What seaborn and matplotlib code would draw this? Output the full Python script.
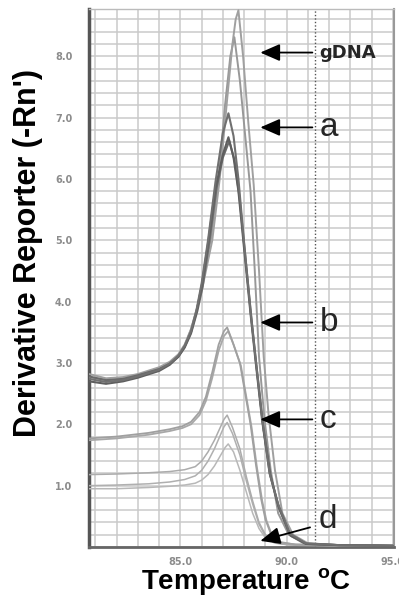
import numpy as np
import pandas as pd
import matplotlib
matplotlib.use("Agg")
import matplotlib.pyplot as plt
import seaborn as sns
from matplotlib.ticker import FixedLocator, MultipleLocator, FormatStrFormatter

# ---------------- data ----------------
gdna1_t = [80.7, 81.5, 82.3, 83.0, 84.0, 84.5, 84.9, 85.2, 85.5, 85.8, 86.05, 86.5, 86.85, 87.2, 87.45, 87.6, 87.73,
           87.95, 88.2, 88.45, 88.7, 88.92, 89.15, 89.45, 89.8, 90.3, 91.0, 92.5, 95.0]
gdna1_v = [2.82, 2.75, 2.77, 2.82, 2.93, 3.02, 3.14, 3.3, 3.55, 3.9, 4.25, 5.0, 6.0, 7.3, 8.2, 8.6, 8.75,
           8.0, 6.9, 5.9, 4.5, 3.1, 2.15, 1.25, 0.55, 0.2, 0.06, 0.03, 0.02]

gdna2_t = [80.7, 81.5, 82.3, 83.0, 84.0, 84.5, 84.9, 85.2, 85.5, 85.8, 86.0, 86.45, 86.8, 87.1, 87.35, 87.54,
           87.8, 88.05, 88.3, 88.5, 88.7, 88.95, 89.25, 89.6, 90.1, 90.8, 92.5, 95.0]
gdna2_v = [2.77, 2.72, 2.74, 2.8, 2.91, 3.0, 3.12, 3.28, 3.55, 3.92, 4.25, 5.05, 6.0, 7.2, 8.0, 8.31,
           7.6, 6.7, 5.8, 4.5, 3.1, 2.1, 1.25, 0.55, 0.2, 0.06, 0.03, 0.02]

a1_t = [80.7, 81.5, 82.3, 83.0, 84.0, 84.5, 84.9, 85.2, 85.5, 85.75, 86.0, 86.3, 86.65, 87.0, 87.26,
        87.5, 87.73, 88.0, 88.3, 88.53, 88.85, 89.2, 89.6, 90.15, 90.9, 92.5, 95.0]
a1_v = [2.74, 2.69, 2.72, 2.78, 2.89, 2.99, 3.12, 3.28, 3.52, 3.85, 4.3, 5.0, 5.95, 6.75, 7.07,
        6.7, 6.0, 4.95, 3.85, 3.1, 2.1, 1.2, 0.7, 0.22, 0.06, 0.03, 0.02]

a2_t = [80.7, 81.5, 82.3, 83.0, 84.0, 84.5, 84.9, 85.2, 85.5, 85.75, 86.0, 86.3, 86.65, 87.0, 87.26,
        87.5, 87.73, 88.0, 88.3, 88.53, 88.85, 89.2, 89.6, 90.15, 90.9, 92.5, 95.0]
a2_v = [2.7, 2.66, 2.7, 2.76, 2.87, 2.97, 3.1, 3.26, 3.5, 3.82, 4.25, 4.95, 5.85, 6.4, 6.68,
        6.35, 5.8, 4.85, 3.8, 3.05, 2.05, 1.2, 0.68, 0.2, 0.05, 0.03, 0.02]

a3_t = [80.7, 81.5, 82.3, 83.0, 84.0, 84.5, 84.9, 85.2, 85.5, 85.8, 86.05, 86.35, 86.7, 87.0, 87.3,
        87.55, 87.78, 88.05, 88.35, 88.58, 88.9, 89.25, 89.65, 90.2, 90.95, 92.5, 95.0]
a3_v = [2.78, 2.72, 2.74, 2.8, 2.9, 2.99, 3.1, 3.25, 3.48, 3.85, 4.25, 4.95, 5.85, 6.35, 6.62,
        6.3, 5.7, 4.75, 3.7, 2.95, 1.95, 1.15, 0.62, 0.18, 0.05, 0.03, 0.02]

c1_t = [80.7, 82.0, 83.5, 84.5, 85.1, 85.5, 85.9, 86.2, 86.5, 86.8, 87.05, 87.2, 87.45, 87.8, 88.05,
        88.3, 88.55, 88.8, 89.0, 89.25, 89.7, 90.4, 92.5, 95.0]
c1_v = [1.77, 1.8, 1.86, 1.92, 1.97, 2.04, 2.2, 2.45, 2.85, 3.3, 3.52, 3.58, 3.35, 3.0, 2.5,
        2.0, 1.35, 0.78, 0.45, 0.22, 0.08, 0.04, 0.03, 0.02]

c2_t = [80.7, 82.0, 83.5, 84.5, 85.1, 85.5, 85.9, 86.2, 86.5, 86.8, 87.05, 87.25, 87.5, 87.85, 88.1,
        88.35, 88.6, 88.85, 89.05, 89.3, 89.75, 90.45, 92.5, 95.0]
c2_v = [1.74, 1.77, 1.83, 1.89, 1.94, 2.0, 2.15, 2.38, 2.76, 3.2, 3.44, 3.52, 3.3, 2.95, 2.45,
        1.95, 1.3, 0.75, 0.43, 0.2, 0.07, 0.04, 0.03, 0.02]

d1_t = [80.7, 82.0, 83.5, 84.5, 85.2, 85.7, 86.0, 86.3, 86.6, 86.85, 87.05, 87.2, 87.45, 87.8, 88.1,
        88.4, 88.7, 89.0, 89.4, 90.0, 92.0, 95.0]
d1_v = [1.18, 1.19, 1.21, 1.23, 1.26, 1.31, 1.4, 1.55, 1.74, 1.93, 2.08, 2.15, 1.95, 1.6, 1.15,
        0.75, 0.4, 0.2, 0.08, 0.04, 0.03, 0.02]

d2_t = [80.7, 82.0, 83.5, 84.5, 85.2, 85.7, 86.0, 86.3, 86.6, 86.85, 87.05, 87.2, 87.45, 87.8, 88.1,
        88.4, 88.7, 89.0, 89.4, 90.0, 92.0, 95.0]
d2_v = [1.0, 1.01, 1.03, 1.06, 1.1, 1.16, 1.25, 1.4, 1.6, 1.8, 1.96, 2.03, 1.85, 1.5, 1.08,
        0.7, 0.37, 0.18, 0.07, 0.04, 0.03, 0.02]

d3_t = [80.7, 82.0, 83.5, 84.5, 85.2, 85.7, 86.0, 86.3, 86.6, 86.9, 87.1, 87.25, 87.5, 87.8, 88.1,
        88.4, 88.7, 89.0, 89.5, 90.2, 92.0, 95.0]
d3_v = [0.95, 0.95, 0.97, 0.99, 1.01, 1.04, 1.09, 1.18, 1.32, 1.5, 1.62, 1.68, 1.55, 1.25, 0.9,
        0.55, 0.3, 0.15, 0.06, 0.03, 0.02, 0.02]

yticks = [1.0, 2.0, 3.0, 4.0, 5.0, 6.0, 7.0, 8.0]
xticks = [85.0, 90.0, 95.0]
arrow_labels = ["gDNA", "a", "b", "c"]
arrow_levels = [8.06, 6.84, 3.66, 2.08]

# ---------------- styling ----------------
sns.set_style("white")
plt.rcParams["font.family"] = ["Liberation Sans", "DejaVu Sans"]
plt.rcParams["mathtext.fontset"] = "custom"
plt.rcParams["mathtext.bf"] = "Liberation Sans:bold"
plt.rcParams["mathtext.rm"] = "Liberation Sans"

fig = plt.figure(figsize=(3.99, 5.98), dpi=100)
ax = fig.add_axes([89 / 399, (598 - 547) / 598, (394 - 89) / 399, (547 - 9) / 598])

curves = [
    (d3_t, d3_v, "#b8b8b8", 1.1),
    (d2_t, d2_v, "#b0b0b0", 1.1),
    (d1_t, d1_v, "#acacac", 1.1),
    (c2_t, c2_v, "#a8a8a8", 1.3),
    (c1_t, c1_v, "#a0a0a0", 1.3),
    (gdna2_t, gdna2_v, "#989898", 1.4),
    (gdna1_t, gdna1_v, "#a0a0a0", 1.4),
    (a3_t, a3_v, "#6a6a6a", 1.5),
    (a2_t, a2_v, "#5e5e5e", 1.5),
    (a1_t, a1_v, "#707070", 1.5),
]
for t, v, col, lw in curves:
    df = pd.DataFrame({"T": t, "D": v})
    sns.lineplot(data=df, x="T", y="D", color=col, linewidth=lw, ax=ax,
                 sort=False, estimator=None, zorder=3)

ax.set_xlim(80.7, 95.05)
ax.set_ylim(0, 8.77)

ax.xaxis.set_major_locator(FixedLocator(xticks))
ax.xaxis.set_minor_locator(MultipleLocator(1.0))
ax.yaxis.set_major_locator(FixedLocator(yticks))
ax.yaxis.set_minor_locator(MultipleLocator(0.2))
ax.xaxis.set_major_formatter(FormatStrFormatter("%.1f"))
ax.yaxis.set_major_formatter(FormatStrFormatter("%.1f"))

ax.grid(which="both", color="#cacaca", linewidth=1.1)
ax.set_axisbelow(True)

ax.tick_params(axis="both", which="both", direction="out", color="#9a9a9a",
               length=5, width=1, labelcolor="#8c8c8c", labelsize=7)
ax.tick_params(axis="y", which="both", pad=7)
ax.tick_params(axis="x", which="both", pad=2)
for lab in ax.get_xticklabels() + ax.get_yticklabels():
    lab.set_fontweight("bold")
    lab.set_family("DejaVu Sans")

ax.spines["left"].set_linewidth(2.5)
ax.spines["left"].set_color("#555555")
ax.spines["bottom"].set_linewidth(2.0)
ax.spines["bottom"].set_color("#666666")
ax.spines["right"].set_linewidth(1.5)
ax.spines["right"].set_color("#999999")
ax.spines["top"].set_linewidth(1.0)
ax.spines["top"].set_color("#bbbbbb")

ax.axvline(91.35, color="#555555", linestyle=(0, (1, 1.5)), linewidth=1.0, zorder=2)

ax.set_ylabel("Derivative Reporter (-Rn')", fontsize=22, fontweight="bold", color="black")
ax.yaxis.set_label_coords(-0.15, 0.546)
ax.set_xlabel(r"Temperature $^{\mathbf{o}}$C", fontsize=20, fontweight="bold", color="black")
ax.xaxis.set_label_coords(0.515, -0.036)

arrow_kw = dict(arrowstyle="-|>,head_length=0.8,head_width=0.35", color="black",
                lw=1.3, shrinkA=0, shrinkB=0, mutation_scale=15)
for lab, lev in zip(arrow_labels, arrow_levels):
    ax.annotate("", xy=(88.76, lev), xytext=(91.21, lev), arrowprops=arrow_kw, zorder=5)
    if lab == "gDNA":
        ax.text(91.55, lev, lab, fontsize=13, fontweight="bold", family="DejaVu Sans",
                ha="left", va="center", zorder=5)
    else:
        ax.text(91.55, lev, lab, fontsize=24, ha="left", va="center", zorder=5)

ax.annotate("", xy=(88.76, 0.1), xytext=(91.1, 0.32), arrowprops=arrow_kw, zorder=5)
ax.text(91.5, 0.45, "d", fontsize=24, ha="left", va="center", zorder=5)

fig.savefig("out.png", dpi=100)
